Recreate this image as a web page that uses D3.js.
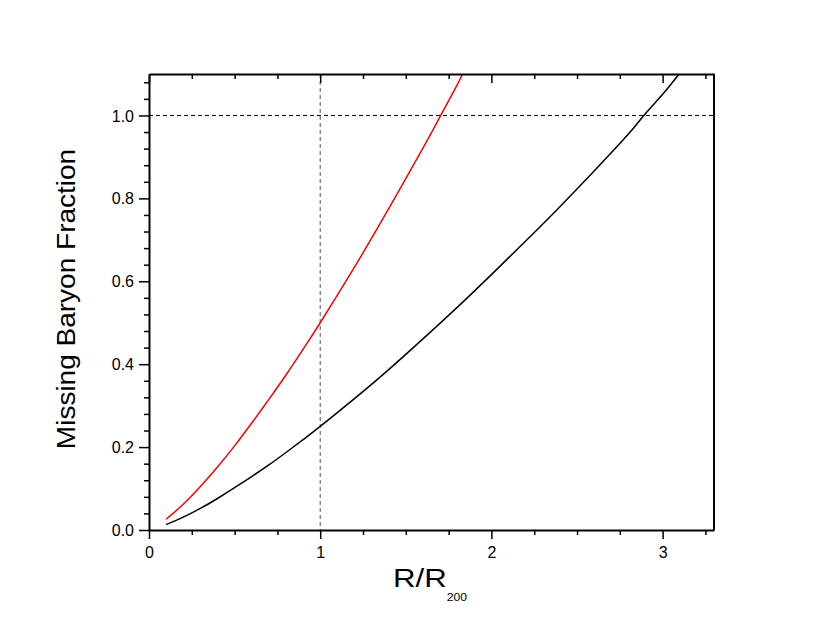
<!DOCTYPE html>
<html>
<head>
<meta charset="utf-8">
<script src="https://cdn.jsdelivr.net/npm/d3@7"></script>
<style>
    body { margin: 0; background: #fff; }
    svg { font-family: "Liberation Sans", Arial, sans-serif; }
</style>
</head>
<body>
<div id="chart-area"></div>
<script>
// values
const redX = [0.1, 0.2, 0.3, 0.4, 0.5, 0.6, 0.7, 0.8, 0.9, 1.0, 1.2, 1.4, 1.6, 1.7, 1.8, 1.831];
const redY = [0.026, 0.062, 0.105, 0.152, 0.203, 0.258, 0.315, 0.374, 0.436, 0.5, 0.634, 0.775, 0.921, 0.997, 1.074, 1.1];
const blackX = [0.1, 0.2, 0.3, 0.4, 0.5, 0.6, 0.7, 0.8, 0.9, 1.0, 1.2, 1.4, 1.6, 1.8, 2.0, 2.2, 2.4, 2.6, 2.8, 2.89, 3.0, 3.096];
const blackY = [0.013, 0.031, 0.052, 0.076, 0.102, 0.129, 0.157, 0.187, 0.218, 0.25, 0.317, 0.387, 0.461, 0.537, 0.616, 0.697, 0.78, 0.866, 0.955, 1.0, 1.051, 1.1];
const xTicks = [0, 1, 2, 3];
const yTicks = [0.0, 0.2, 0.4, 0.6, 0.8, 1.0];
const refX = 1;
const refY = 1.0;

const margin = { left: 149, top: 74, right: 116, bottom: 106 };
const chartSize = { width: 830, height: 636 };
const width = chartSize.width - margin.left - margin.right;
const height = chartSize.height - margin.top - margin.bottom;

// the reference titles are a bit wider than Liberation Sans
const stretch = (sel, k) => sel.each(function () {
    const len = this.getComputedTextLength();
    if (len > 0) d3.select(this).attr("textLength", len * k).attr("lengthAdjust", "spacingAndGlyphs");
});

const svg = d3.select("#chart-area").append("svg")
    .attr("width", chartSize.width)
    .attr("height", chartSize.height);

const g = svg.append("g").attr("transform", `translate(${margin.left}, ${margin.top})`);

const x = d3.scaleLinear().domain([0, 3.3]).range([0, width]);
const y = d3.scaleLinear().domain([0, 1.1]).range([height, 0]);

const xMinor = d3.range(0, 3.3001, 0.25).filter(v => !xTicks.includes(v));
const yMinor = d3.range(0, 1.1001, 0.04).map(v => +v.toFixed(2)).filter(v => Math.abs(v * 5 - Math.round(v * 5)) > 1e-6);

// reference lines
g.append("line")
    .attr("x1", 0).attr("x2", width)
    .attr("y1", y(refY)).attr("y2", y(refY))
    .attr("stroke", "#000").attr("stroke-width", 1)
    .attr("stroke-dasharray", "4,3");
g.append("line")
    .attr("x1", x(refX)).attr("x2", x(refX))
    .attr("y1", 0).attr("y2", height)
    .attr("stroke", "#555").attr("stroke-width", 1)
    .attr("stroke-dasharray", "4,3");

// curves
const line = d3.line().x(d => x(d[0])).y(d => y(d[1])).curve(d3.curveNatural);
g.append("path")
    .datum(blackX.map((v, i) => [v, blackY[i]]))
    .attr("d", line).attr("fill", "none")
    .attr("stroke", "#000").attr("stroke-width", 1.5);
g.append("path")
    .datum(redX.map((v, i) => [v, redY[i]]))
    .attr("d", line).attr("fill", "none")
    .attr("stroke", "#ff0000").attr("stroke-width", 1.5);

// bottom axis
const xAxis = g.append("g").attr("class", "x-axis")
    .attr("transform", `translate(0, ${height})`)
    .call(d3.axisBottom(x).tickValues(xTicks).tickFormat(d3.format("d")).tickSize(9).tickSizeOuter(0));
g.append("g").attr("transform", `translate(0, ${height})`)
    .call(d3.axisBottom(x).tickValues(xMinor).tickFormat("").tickSize(5).tickSizeOuter(0))
    .select(".domain").remove();

// top axis (inward ticks)
g.append("g")
    .call(d3.axisBottom(x).tickValues(xTicks).tickFormat("").tickSize(9).tickSizeOuter(0));
g.append("g")
    .call(d3.axisBottom(x).tickValues(xMinor).tickFormat("").tickSize(5).tickSizeOuter(0))
    .select(".domain").remove();

// left axis
const yAxis = g.append("g").attr("class", "y-axis")
    .call(d3.axisLeft(y).tickValues(yTicks).tickFormat(d3.format(".1f")).tickSize(10).tickSizeOuter(0));
g.append("g")
    .call(d3.axisLeft(y).tickValues(yMinor).tickFormat("").tickSize(5).tickSizeOuter(0))
    .select(".domain").remove();

// right border
g.append("line")
    .attr("x1", width).attr("x2", width).attr("y1", 0).attr("y2", height)
    .attr("stroke", "#000").attr("stroke-width", 2);

g.selectAll(".domain").attr("stroke-width", 2);
g.selectAll(".tick line").attr("stroke-width", 1.5);
g.selectAll(".tick text").attr("font-size", 16).attr("font-family", "Liberation Sans, Arial, sans-serif").attr("fill", "#000");
xAxis.selectAll(".tick text").attr("y", 17);
yAxis.selectAll(".tick text").attr("x", -15).attr("dy", "0.35em");

// axis titles
const yt = svg.append("text")
    .attr("transform", "translate(75, 299) rotate(-90)")
    .attr("text-anchor", "middle")
    .attr("font-size", 25)
    .text("Missing Baryon Fraction");
stretch(yt, 1.12);

const xt = svg.append("text")
    .attr("x", 393).attr("y", 587)
    .attr("font-size", 25);
const xtMain = xt.append("tspan").text("R/R");
const xtSub = xt.append("tspan").attr("font-size", 11).attr("dy", 14).text("200");
stretch(xtMain, 1.25);
stretch(xtSub, 1.1);
</script>
</body>
</html>
